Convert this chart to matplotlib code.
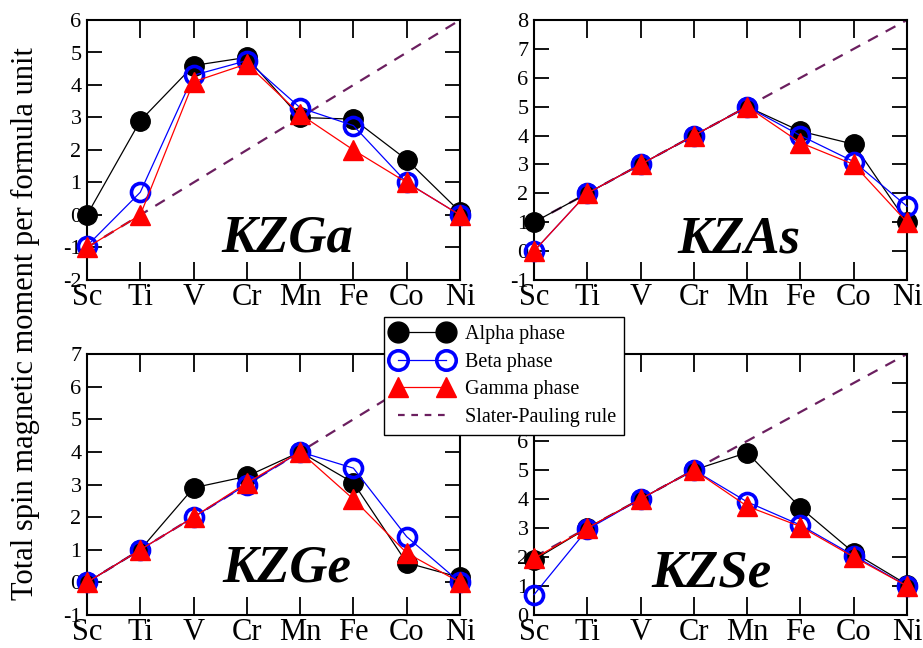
import numpy as np
import matplotlib
matplotlib.use("Agg")
import matplotlib.pyplot as plt
from matplotlib.lines import Line2D

plt.rcParams["font.family"] = ["Liberation Serif", "DejaVu Serif"]
plt.rcParams["axes.unicode_minus"] = False

ELEMENTS = ["Sc", "Ti", "V", "Cr", "Mn", "Fe", "Co", "Ni"]

# KZGa
kzga_alpha = [0.0, 2.9, 4.6, 4.85, 3.0, 2.95, 1.7, 0.1]
kzga_beta = [-0.95, 0.7, 4.3, 4.75, 3.3, 2.75, 1.0, 0.0]
kzga_gamma = [-1.0, 0.0, 4.1, 4.65, 3.1, 2.0, 1.0, 0.0]
kzga_sp = [-1, 0, 1, 2, 3, 4, 5, 6]

# KZAs
kzas_alpha = [1.0, 2.0, 3.0, 4.0, 5.0, 4.15, 3.7, 1.0]
kzas_beta = [0.0, 2.0, 3.0, 4.0, 5.0, 4.0, 3.1, 1.55]
kzas_gamma = [0.0, 2.0, 3.0, 4.0, 5.0, 3.75, 3.0, 1.0]
kzas_sp = [1, 2, 3, 4, 5, 6, 7, 8]

# KZGe
kzge_alpha = [0.0, 1.0, 2.9, 3.25, 4.0, 3.05, 0.6, 0.15]
kzge_beta = [0.0, 1.0, 2.0, 3.0, 4.0, 3.5, 1.4, 0.0]
kzge_gamma = [0.0, 1.0, 2.0, 3.05, 4.0, 2.55, 0.9, 0.0]
kzge_sp = [0, 1, 2, 3, 4, 5, 6, 7]

# KZSe
kzse_alpha = [1.9, 3.0, 4.0, 5.0, 5.6, 3.7, 2.15, 1.05]
kzse_beta = [0.7, 2.95, 4.0, 5.0, 3.9, 3.1, 2.05, 1.0]
kzse_gamma = [1.95, 3.0, 4.0, 5.0, 3.75, 3.05, 2.0, 1.0]
kzse_sp = [2, 3, 4, 5, 6, 7, 8, 9]

PANELS = [
    ("KZGa", kzga_alpha, kzga_beta, kzga_gamma, kzga_sp, (-2, 6)),
    ("KZAs", kzas_alpha, kzas_beta, kzas_gamma, kzas_sp, (-1, 8)),
    ("KZGe", kzge_alpha, kzge_beta, kzge_gamma, kzge_sp, (-1, 7)),
    ("KZSe", kzse_alpha, kzse_beta, kzse_gamma, kzse_sp, (0, 9)),
]

# axes rectangles in pixels (left, top, right, bottom), label pos in axes coords
W, H = 923, 648
RECTS = [
    (87, 20, 460, 280),
    (534, 20, 907, 280),
    (87, 354, 460, 615),
    (534, 354, 907, 615),
]
LABEL_POS = [(0.536, 0.16), (0.55, 0.155), (0.536, 0.18), (0.477, 0.16)]

SP_COLOR = "#6b1f5f"

fig = plt.figure(figsize=(W / 100, H / 100), dpi=100)

for (name, a, b, g, sp, ylim), (x0, y0, x1, y1), (lx, ly) in zip(PANELS, RECTS, LABEL_POS):
    ax = fig.add_axes([x0 / W, 1 - y1 / H, (x1 - x0) / W, (y1 - y0) / H])
    x = np.arange(len(ELEMENTS))
    ax.plot(x, sp, ls=(0, (5, 4)), color=SP_COLOR, lw=1.6, zorder=2)
    ax.plot(x, a, color="black", lw=0.9, marker="o", ms=14,
            mfc="black", mec="black", zorder=3, clip_on=False)
    ax.plot(x, b, color="blue", lw=0.9, marker="o", ms=13,
            mfc="none", mec="blue", mew=2.6, zorder=4, clip_on=False)
    ax.plot(x, g, color="red", lw=0.9, marker="^", ms=14,
            mfc="red", mec="red", zorder=5, clip_on=False)
    ax.set_xlim(0, len(ELEMENTS) - 1)
    ax.set_ylim(*ylim)
    ax.set_xticks(x)
    ax.set_xticklabels(ELEMENTS, fontsize=22)
    ax.set_yticks(np.arange(ylim[0], ylim[1] + 1))
    ax.tick_params(axis="x", direction="in", top=True, length=13, width=1.3, pad=2)
    ax.tick_params(axis="y", direction="in", right=True, length=11, width=1.3,
                   pad=4, labelsize=16)
    for s in ax.spines.values():
        s.set_linewidth(1.5)
    ax.text(lx, ly, name, transform=ax.transAxes, ha="center", va="center",
            fontsize=38, fontweight="bold", fontstyle="italic", zorder=6)

fig.text(25 / W, 0.5, "Total spin magnetic moment per formula unit",
         rotation=90, ha="center", va="center", fontsize=22)

handles = [
    Line2D([], [], color="black", lw=0.9, marker="o", ms=15, mfc="black"),
    Line2D([], [], color="blue", lw=0.9, marker="o", ms=14, mfc="none",
           mec="blue", mew=2.6),
    Line2D([], [], color="red", lw=0.9, marker="^", ms=15, mfc="red", mec="red"),
    Line2D([], [], color=SP_COLOR, lw=1.6, ls=(0, (3, 3))),
]
labels = ["Alpha phase", "Beta phase", "Gamma phase", "Slater-Pauling rule"]
leg = fig.legend(handles, labels, loc="upper left",
                 bbox_to_anchor=(384 / W, 1 - 317 / H), borderaxespad=0,
                 fontsize=14.5, numpoints=2, handlelength=3.0, handletextpad=0.6,
                 labelspacing=0.42, borderpad=0.4, fancybox=False,
                 edgecolor="black", framealpha=1)
leg.get_frame().set_linewidth(1.0)
leg.set_zorder(10)

fig.savefig("out.png", dpi=100)
